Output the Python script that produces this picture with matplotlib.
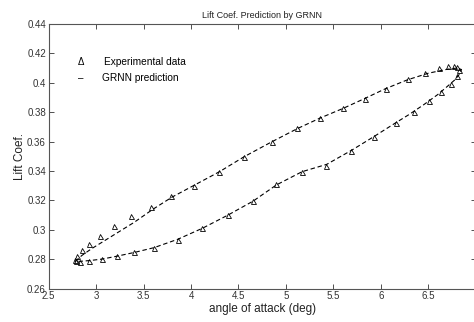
import matplotlib
matplotlib.use("Agg")
import matplotlib.pyplot as plt

plt.rcParams["font.family"] = ["Liberation Sans", "DejaVu Sans"]

# experimental data (loop: rising branch then falling branch)
exp_x = [2.775, 2.80, 2.85, 2.925, 3.04, 3.19, 3.37, 3.58, 3.79, 4.035, 4.29,
         4.56, 4.85, 5.115, 5.36, 5.60, 5.83, 6.055, 6.285, 6.47, 6.61, 6.705,
         6.77, 6.805, 6.82,
         6.80, 6.735, 6.635, 6.505, 6.345, 6.155, 5.93, 5.685, 5.425, 5.17,
         4.90, 4.655, 4.39, 4.12, 3.86, 3.61, 3.40, 3.22, 3.06, 2.93, 2.83, 2.785]
exp_y = [0.2791, 0.2820, 0.2864, 0.2905, 0.2960, 0.3025, 0.3095, 0.3158, 0.3227,
         0.3300, 0.3393, 0.3495, 0.3597, 0.3689, 0.3761, 0.3825, 0.3891, 0.3961,
         0.4023, 0.4068, 0.4098, 0.4116, 0.4116, 0.4110, 0.4086,
         0.4045, 0.3995, 0.3938, 0.3875, 0.3802, 0.3727, 0.3632, 0.3534, 0.3436,
         0.3391, 0.3309, 0.3195, 0.3102, 0.3011, 0.2932, 0.2879, 0.2847, 0.2820,
         0.2800, 0.2784, 0.2779, 0.2784]

# GRNN prediction curve
pred_x = [2.78, 2.85, 2.95, 3.05, 3.2, 3.4, 3.6, 3.8, 4.04, 4.3, 4.56, 4.85,
          5.12, 5.36, 5.6, 5.83, 6.05, 6.28, 6.5, 6.7, 6.8, 6.85,
          6.83, 6.78, 6.7, 6.6, 6.45, 6.3, 6.15, 5.93, 5.69, 5.43, 5.17,
          4.9, 4.655, 4.39, 4.12, 3.86, 3.61, 3.4, 3.22, 3.06, 2.93, 2.83, 2.78]
pred_y = [0.2785, 0.2825, 0.2870, 0.2910, 0.2970, 0.3050, 0.3140, 0.3222,
          0.3305, 0.3395, 0.3497, 0.3598, 0.3688, 0.3760, 0.3825, 0.3893,
          0.3960, 0.4020, 0.4065, 0.4092, 0.4100, 0.4090,
          0.4060, 0.4020, 0.3975, 0.3920, 0.3850, 0.3785, 0.3725, 0.3635,
          0.3540, 0.3445, 0.3395, 0.3305, 0.3195, 0.3100, 0.3010, 0.2935,
          0.2878, 0.2845, 0.2820, 0.2800, 0.2790, 0.2785, 0.2785]

xticks = [2.5, 3, 3.5, 4, 4.5, 5, 5.5, 6, 6.5]
xtick_labels = ["2.5", "3", "3.5", "4", "4.5", "5", "5.5", "6", "6.5"]
yticks = [0.26, 0.28, 0.30, 0.32, 0.34, 0.36, 0.38, 0.40, 0.42, 0.44]
ytick_labels = ["0.26", "0.28", "0.3", "0.32", "0.34", "0.36", "0.38", "0.4", "0.42", "0.44"]

fig = plt.figure(figsize=(4.74, 3.22), dpi=100)
ax = fig.add_axes([0.1027, 0.104, 0.901, 0.8215])

ax.plot(pred_x, pred_y, color="black", linestyle=(0, (4, 2.5)), linewidth=0.8)
ax.plot(exp_x, exp_y, linestyle="none", marker="^", markersize=3.6,
        markerfacecolor="none", markeredgecolor="black", markeredgewidth=0.6)

ax.set_xlim(2.5, 7)
ax.set_ylim(0.26, 0.44)
ax.set_xticks(xticks)
ax.set_xticklabels(xtick_labels)
ax.set_yticks(yticks)
ax.set_yticklabels(ytick_labels)
ax.tick_params(direction="in", length=3.5, width=0.6, labelsize=7,
               top=True, right=True, colors="#333333", pad=2)
for s in ax.spines.values():
    s.set_linewidth(0.8)
    s.set_color("#555555")

ax.set_title("Lift Coef. Prediction by GRNN", fontsize=6.5, pad=4, color="#222222")
ax.set_xlabel("angle of attack (deg)", fontsize=8.5, labelpad=1, color="#222222")
ax.set_ylabel("Lift Coef.", fontsize=8.5, labelpad=1, color="#222222")

# legend drawn as text, like the original
ax.text(0.068, 0.855, "\u0394", transform=ax.transAxes, fontsize=7, va="center")
ax.text(0.13, 0.855, "Experimental data", transform=ax.transAxes, fontsize=7.3, va="center")
ax.text(0.068, 0.795, "\u2013", transform=ax.transAxes, fontsize=7, va="center")
ax.text(0.125, 0.795, "GRNN prediction", transform=ax.transAxes, fontsize=7.3, va="center")

fig.savefig("out.png", dpi=100)
